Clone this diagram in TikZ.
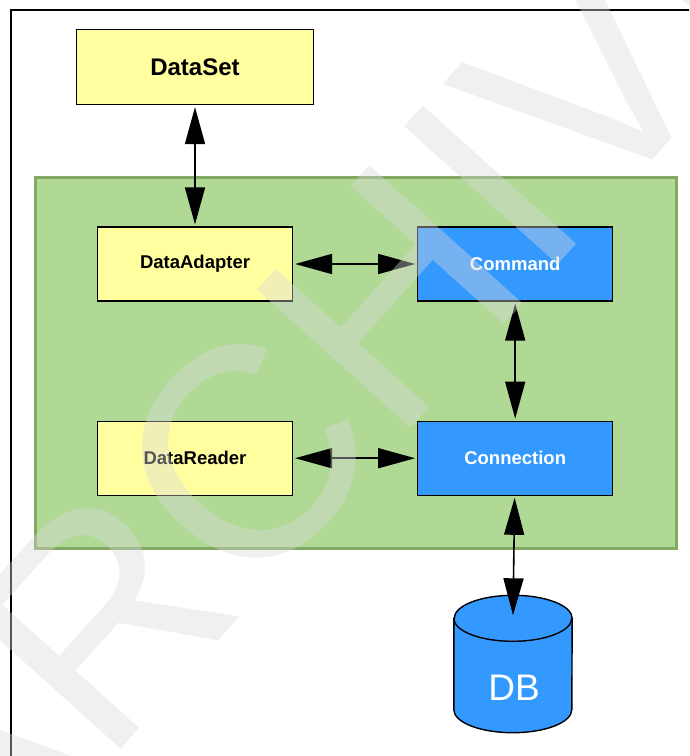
\documentclass[tikz,border=0pt]{standalone}
\usepackage{fontspec}
\setsansfont{Liberation Sans}
\usepackage{xcolor}
\usetikzlibrary{arrows.meta,positioning}

\definecolor{boxyellow}{RGB}{255,255,160}
\definecolor{boxblue}{RGB}{51,153,255}
\definecolor{panelgreen}{RGB}{176,217,149}
\definecolor{paneledge}{RGB}{130,168,98}

\begin{document}
\begin{tikzpicture}[x=1pt,y=-1pt,
    comp/.style={draw, line width=1.2pt, minimum width=195pt, minimum height=74pt,
        font=\sffamily\bfseries\fontsize{18.5}{22}\selectfont},
    yellowbox/.style={comp, fill=boxyellow},
    bluebox/.style={comp, fill=boxblue, text=white},
    biarrow/.style={{Triangle[length=37pt,width=20pt]}-{Triangle[length=37pt,width=20pt]},
        line width=1.6pt, shorten <=2pt, shorten >=2pt}]

    % Define the cylinder radii
    \def\rx{59}
    \def\ry{23}

    % Define the page and clip to it
    \useasboundingbox (0,0) rectangle (689,756);
    \clip (0,0) rectangle (689,756);

    % Draw the outer frame
    \draw[line width=1.5pt] (11,10) rectangle (720,790);

    % Draw the green panel
    \draw[line width=3pt, draw=paneledge, fill=panelgreen] (35,177) rectangle (676,548);

    % Place the components
    \node[yellowbox, minimum width=237pt, minimum height=75pt,
        font=\sffamily\bfseries\fontsize{24}{28}\selectfont] (dataset) at (195,67) {DataSet};
    \node[yellowbox] (adapter) at (195,264) {DataAdapter};
    \node[bluebox, right=124pt of adapter] (command) {Command};
    \node[yellowbox, below=119pt of adapter] (reader) {DataReader};
    \node[bluebox, right=124pt of reader] (connection) {Connection};

    % Draw the database
    \node[inner sep=0pt, minimum width=118pt, minimum height=137pt] (db) at (513,664) {};
    \draw[line width=1.4pt, fill=boxblue]
        ([yshift=-\ry pt]db.north west) -- ([yshift=\ry pt]db.south west)
        arc (180:360:\rx pt and \ry pt) -- ([yshift=-\ry pt]db.north east)
        arc (0:180:\rx pt and \ry pt) -- cycle;
    \draw[line width=1.4pt] ([yshift=-\ry pt]db.north west) arc (180:360:\rx pt and \ry pt);
    \node[text=white, font=\sffamily\fontsize{37}{40}\selectfont] (dblabel) at (514,688) {DB};

    % Draw the links
    \draw[biarrow] (dataset) -- (adapter);
    \draw[biarrow] (adapter) -- (command);
    \draw[biarrow] (command) -- (connection);
    \draw[biarrow] (reader) -- (connection);
    \draw[biarrow, shorten >=0pt] (connection) -- ([yshift=-20pt]db.north);

    % Watermark over the picture
    \node[rotate=48, text=black!15, text opacity=0.4,
        font=\sffamily\fontsize{300}{300}\selectfont] (mark) at (340,352) {ARCHIVE};
\end{tikzpicture}
\end{document}
